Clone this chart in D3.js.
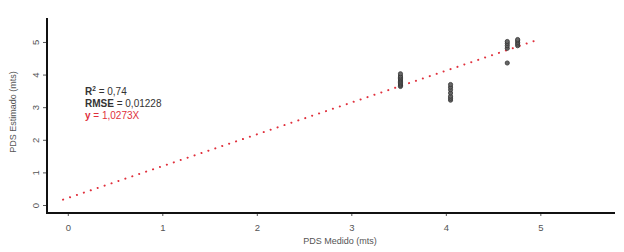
<!DOCTYPE html>
<html><head><meta charset="utf-8">
<script src="https://cdn.jsdelivr.net/npm/d3@7"></script>
<style>body{margin:0;background:#fff;font-family:"Liberation Sans",Arial,sans-serif}</style>
</head><body><div id="chart"></div>
<script>
const xTicks = [0,1,2,3,4,5];
const yTicks = [0,1,2,3,4,5];
const measured = [3.52,3.52,3.52,3.52,3.52,3.52,3.52,3.52,3.52,3.52,
                  4.05,4.05,4.05,4.05,4.05,4.05,4.05,
                  4.65,4.65,4.65,4.65,4.65,
                  4.76,4.76,4.76,4.76,4.76];
const estimated = [3.65,3.69,3.73,3.77,3.81,3.85,3.89,3.93,3.97,4.04,
                   3.23,3.29,3.35,3.45,3.55,3.63,3.71,
                   4.37,4.82,4.90,4.97,5.03,
                   4.90,4.95,5.00,5.05,5.09];
const fitX = [-0.05, 4.93];
const fitY = [0.18, 5.04];
const statLabels = ["R","RMSE","y"];
const statValues = [" = 0,74"," = 0,01228"," = 1,0273X"];

const W=624,H=252;
const svg=d3.select("#chart").append("svg").attr("width",W).attr("height",H);
const x=d3.scaleLinear().domain([-0.22,5.79]).range([47,615]);
const y=d3.scaleLinear().domain([-0.23,5.75]).range([213,18]);

// fit line
svg.append("line")
  .attr("x1",x(fitX[0])).attr("y1",y(fitY[0]))
  .attr("x2",x(fitX[1])).attr("y2",y(fitY[1]))
  .attr("stroke","#e0303c").attr("stroke-width",2)
  .attr("stroke-dasharray","0.1,7.2").attr("stroke-linecap","round");

// points
svg.append("g").selectAll("circle").data(measured).join("circle")
  .attr("cx",d=>x(d)).attr("cy",(d,i)=>y(estimated[i]))
  .attr("r",2.1).attr("fill","#666").attr("stroke","#333").attr("stroke-width",0.8);

// axes
const ax=svg.append("g").attr("transform","translate(47,0)")
  .call(d3.axisLeft(y).tickValues(yTicks).tickSize(4).tickFormat(d3.format("d")));
ax.select(".domain").remove();
ax.selectAll("line").attr("stroke","#555");
ax.selectAll("text").attr("fill","#555").attr("font-size",9.5)
  .attr("font-family","Liberation Sans, Arial, sans-serif")
  .attr("transform",function(d){return `rotate(-90,${-11},${y(d)})`;})
  .attr("x",-11).attr("dy","0").attr("y",d=>y(d)).attr("text-anchor","middle")
  .attr("dominant-baseline","middle");
ax.selectAll(".tick").attr("transform",null);
ax.selectAll(".tick line").attr("y1",d=>y(d)).attr("y2",d=>y(d));

const bx=svg.append("g").attr("transform","translate(0,213)")
  .call(d3.axisBottom(x).tickValues(xTicks).tickSize(3).tickFormat(d3.format("d")));
bx.select(".domain").remove();
bx.selectAll("line").attr("stroke","#555");
bx.selectAll("text").attr("fill","#555").attr("font-size",9.5).attr("dy","1.25em")
  .attr("font-family","Liberation Sans, Arial, sans-serif");

svg.append("line").attr("x1",47).attr("x2",47).attr("y1",18).attr("y2",214)
  .attr("stroke","#111").attr("stroke-width",2);
svg.append("line").attr("x1",46).attr("x2",615).attr("y1",213).attr("y2",213)
  .attr("stroke","#111").attr("stroke-width",2);

// titles
svg.append("text").attr("x",340).attr("y",244).attr("text-anchor","middle")
  .attr("font-size",9).attr("fill","#555").text("PDS Medido (mts)");
svg.append("text").attr("transform","translate(16,112) rotate(-90)").attr("text-anchor","middle")
  .attr("font-size",9).attr("fill","#555").text("PDS Estimado (mts)");

// stats
const colors=["#333","#333","#e0303c"];
const ys=[95,107,119];
statLabels.forEach((lab,i)=>{
  const t=svg.append("text").attr("x",85).attr("y",ys[i]).attr("font-size",10).attr("fill",colors[i]);
  t.append("tspan").attr("font-weight","bold").text(lab);
  if(i===0) t.append("tspan").attr("font-size",6.5).attr("dy",-4).attr("font-weight","bold").text("2");
  t.append("tspan").attr("dy",i===0?4:0).text(i===0?"  = 0,74":statValues[i]);
});
</script></body></html>
